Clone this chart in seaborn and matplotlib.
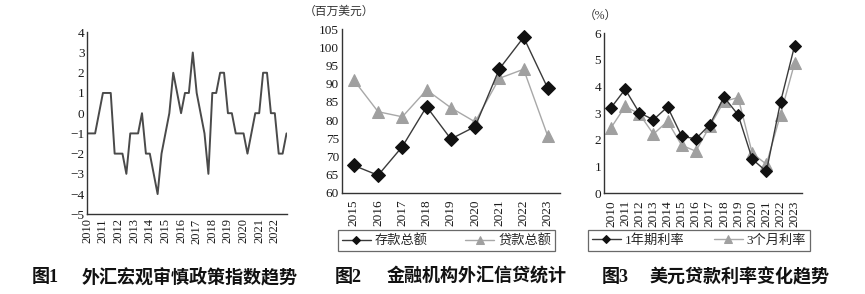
import numpy as np
import pandas as pd
import matplotlib
matplotlib.use("Agg")
import matplotlib.pyplot as plt
import seaborn as sns

# ---------------- data ----------------
# Fig 1: macro-prudential index, quarterly 2010Q1 - 2022Q4
index_values = [-1, -1, -1, 0, 1, 1, 1, -2, -2, -2, -3, -1, -1, -1, 0, -2,
                -2, -3, -4, -2, -1, 0, 2, 1, 0, 1, 1, 3, 1, 0, -1, -3,
                1, 1, 2, 2, 0, 0, -1, -1, -1, -2, -1, 0, 0, 2, 2, 0,
                0, -2, -2, -1]
index_start_year = 2010
index_years = list(range(2010, 2023))

# Fig 2: foreign-currency credit (million USD)
credit_years = [2015, 2016, 2017, 2018, 2019, 2020, 2021, 2022, 2023]
deposits = [67.5, 64.8, 72.7, 83.7, 74.8, 78.2, 94.1, 102.8, 88.7]
loans = [91.0, 82.3, 80.9, 88.3, 83.4, 79.5, 91.5, 94.0, 75.5]

# Fig 3: USD loan rates (%)
rate_years = list(range(2010, 2024))
rate_1y = [3.21, 3.90, 3.02, 2.76, 3.24, 2.14, 2.04, 2.58, 3.61, 2.94, 1.28, 0.82, 3.42, 5.54]
rate_3m = [2.46, 3.26, 2.98, 2.22, 2.70, 1.80, 1.58, 2.52, 3.45, 3.59, 1.50, 1.09, 2.95, 4.89]

titles_num = ["图1", "图2", "图3"]
titles_txt = ["外汇宏观审慎政策指数趋势", "金融机构外汇信贷统计", "美元贷款利率变化趋势"]
unit2 = "（百万美元）"
unit3 = "（%）"
leg2 = ["存款总额", "贷款总额"]
leg3 = ["1年期利率", "3个月利率"]

# ---------------- style ----------------
sns.set_theme(style="white")
FAM = ["Liberation Serif", "Noto Sans CJK SC"]
plt.rcParams["font.family"] = FAM
plt.rcParams["axes.unicode_minus"] = True

W, H = 865, 294
fig = plt.figure(figsize=(W / 100, H / 100), dpi=100)
fig.patch.set_facecolor("white")

def fx(px):
    return px / W

def fy(py):
    return 1 - py / H

def axes_px(left, top, right, bottom):
    return fig.add_axes([fx(left), fy(bottom), fx(right) - fx(left), fy(top) - fy(bottom)])

def style_axes(ax):
    for s in ["top", "right"]:
        ax.spines[s].set_visible(False)
    for s in ["left", "bottom"]:
        ax.spines[s].set_color("#333333")
        ax.spines[s].set_linewidth(1.0)
    ax.set_facecolor("white")
    ax.grid(False)
    ax.set_xlabel("")
    ax.set_ylabel("")
    ax.tick_params(axis="both", which="both", direction="in", colors="#333333",
                   labelcolor="#1a1a1a", labelsize=9.5, width=0.9)
    ax.tick_params(axis="y", length=3.5, pad=2)

# ---------------- Fig 1 ----------------
ax1 = axes_px(87.3, 32.3, 287, 214.3)
df1 = pd.DataFrame({"t": [index_start_year + i / 4 for i in range(len(index_values))],
                    "v": index_values})
sns.lineplot(data=df1, x="t", y="v", ax=ax1, color="#4a4a4a", linewidth=1.4)
ax1.set_xlim(2010, 2022.78)
ax1.set_ylim(-5, 4)
ax1.set_yticks(range(-5, 5))
ax1.set_xticks(index_years)
ax1.set_xticklabels([str(y) for y in index_years], rotation=90)
style_axes(ax1)
ax1.tick_params(axis="x", length=3.5, pad=3, labelsize=9)

# ---------------- Fig 2 ----------------
ax2 = axes_px(341.7, 29.3, 560, 192.7)
df2 = pd.DataFrame({"year": credit_years, "dep": deposits, "loan": loans})
sns.lineplot(data=df2, x="year", y="loan", ax=ax2, color="#a8a8a8", linewidth=1.0,
             marker="^", markersize=9, markerfacecolor="#a0a0a0",
             markeredgecolor="#a0a0a0", label=leg2[1], legend=False)
sns.lineplot(data=df2, x="year", y="dep", ax=ax2, color="#3a3a3a", linewidth=1.0,
             marker="D", markersize=7, markerfacecolor="#111111",
             markeredgecolor="#111111", label=leg2[0], legend=False)
ax2.set_xlim(credit_years[0] - 0.5, credit_years[-1] + 0.5)
ax2.set_ylim(60, 105)
ax2.set_yticks(range(60, 106, 5))
ax2.set_xticks(credit_years)
ax2.set_xticklabels([str(y) for y in credit_years], rotation=90)
ax2.set_xticks([y - 0.5 for y in credit_years] + [credit_years[-1] + 0.5], minor=True)
style_axes(ax2)
ax2.tick_params(axis="x", which="major", length=0, pad=5, labelsize=9.5)
ax2.tick_params(axis="x", which="minor", length=3.5)
fig.text(fx(304), fy(12), unit2, fontsize=8.5, va="center", ha="left", color="#333333",
         family=FAM)

h2, l2 = ax2.get_legend_handles_labels()
order = [l2.index(leg2[0]), l2.index(leg2[1])]
lg2 = fig.legend([h2[i] for i in order], [l2[i] for i in order],
                 bbox_to_anchor=(fx(338), fy(253), fx(555) - fx(338), fy(228) - fy(253)),
                 loc="center", mode="expand", ncol=2, frameon=True, fancybox=False,
                 edgecolor="#444444", handlelength=2.2, handletextpad=0.3,
                 markerscale=0.6, borderpad=0.3, borderaxespad=0.0, columnspacing=1.5,
                 prop={"family": FAM, "size": 9.5})
lg2.get_frame().set_linewidth(0.9)

# ---------------- Fig 3 ----------------
ax3 = axes_px(604, 33.3, 801.7, 193.3)
df3 = pd.DataFrame({"year": rate_years, "r1": rate_1y, "r3": rate_3m})
sns.lineplot(data=df3, x="year", y="r3", ax=ax3, color="#a8a8a8", linewidth=1.0,
             marker="^", markersize=8.5, markerfacecolor="#a0a0a0",
             markeredgecolor="#a0a0a0", label=leg3[1], legend=False)
sns.lineplot(data=df3, x="year", y="r1", ax=ax3, color="#3a3a3a", linewidth=1.0,
             marker="D", markersize=6.5, markerfacecolor="#111111",
             markeredgecolor="#111111", label=leg3[0], legend=False)
ax3.set_xlim(rate_years[0] - 0.5, rate_years[-1] + 0.5)
ax3.set_ylim(0, 6)
ax3.set_yticks(range(0, 7))
ax3.set_xticks(rate_years)
ax3.set_xticklabels([str(y) for y in rate_years], rotation=90)
ax3.set_xticks([y - 0.5 for y in rate_years] + [rate_years[-1] + 0.5], minor=True)
style_axes(ax3)
ax3.tick_params(axis="x", which="major", length=0, pad=5, labelsize=9.5)
ax3.tick_params(axis="x", which="minor", length=3.5)
fig.text(fx(584), fy(16), unit3, fontsize=8.5, va="center", ha="left", color="#333333",
         family=FAM)

h3, l3 = ax3.get_legend_handles_labels()
order = [l3.index(leg3[0]), l3.index(leg3[1])]
lg3 = fig.legend([h3[i] for i in order], [l3[i] for i in order],
                 bbox_to_anchor=(fx(588), fy(253), fx(810) - fx(588), fy(228) - fy(253)),
                 loc="center", mode="expand", ncol=2, frameon=True, fancybox=False,
                 edgecolor="#444444", handlelength=2.2, handletextpad=0.3,
                 markerscale=0.6, borderpad=0.3, borderaxespad=0.0, columnspacing=1.5,
                 prop={"family": FAM, "size": 9.5})
lg3.get_frame().set_linewidth(0.9)

# ---------------- captions ----------------
num_x = [31.7, 335, 602]
txt_x = [81.7, 387, 649]
for nx, tx, n, t in zip(num_x, txt_x, titles_num, titles_txt):
    fig.text(fx(nx), fy(277), n, fontsize=13, fontweight="bold", va="center", ha="left",
             color="#111111", family=FAM)
    fig.text(fx(tx), fy(277), t, fontsize=13, fontweight="bold", va="center", ha="left",
             color="#111111", family=FAM)

fig.savefig("out.png", dpi=100, facecolor="white")
